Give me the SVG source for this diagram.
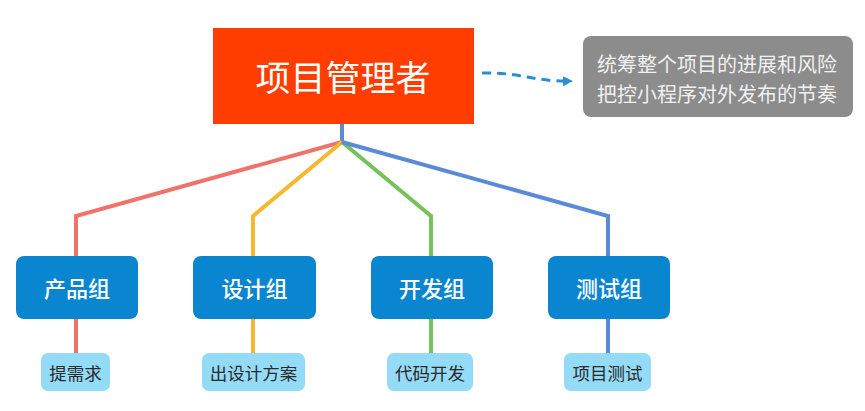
<svg xmlns="http://www.w3.org/2000/svg" width="865" height="411" viewBox="0 0 865 411">
<style>
text{font-family:"Noto Sans CJK SC","Noto Sans",sans-serif;text-anchor:middle;dominant-baseline:central}
.grp rect{fill:#0A86D0}
.grp text{fill:#fff;font-size:22px;font-weight:500}
.sub rect{fill:#93DBF7}
.sub text{fill:#2A2A2A;font-size:17.5px}
.ln{fill:none;stroke-width:4;stroke-linejoin:miter}
</style>
<defs>
<marker id="ah" markerWidth="10" markerHeight="10" refX="7" refY="5" orient="auto" markerUnits="userSpaceOnUse">
<path d="M0,0 L10,5 L0,10 Z" fill="#2A8FD0"/>
</marker>
</defs>
<rect width="865" height="411" fill="#fff"/>
<g id="connectors">
<line class="ln" x1="342" y1="124" x2="342" y2="143" stroke="#5B8BD6"/>
<polyline class="ln" points="342,142 76,216 76,256" stroke="#F0736A"/>
<polyline class="ln" points="342,142 253,216 253,256" stroke="#F5B82E"/>
<polyline class="ln" points="342,142 431,216 431,256" stroke="#74C25C"/>
<polyline class="ln" points="342,142 608,216 608,256" stroke="#5B8BD6"/>
<line class="ln" x1="76" y1="318" x2="76" y2="354" stroke="#F0736A"/>
<line class="ln" x1="253" y1="318" x2="253" y2="354" stroke="#F5B82E"/>
<line class="ln" x1="431" y1="318" x2="431" y2="354" stroke="#74C25C"/>
<line class="ln" x1="608" y1="318" x2="608" y2="354" stroke="#5B8BD6"/>
<path d="M482,73 C520,72 535,82 570,81" fill="none" stroke="#2A8FD0" stroke-width="3" stroke-dasharray="9,6" marker-end="url(#ah)"/>
</g>
<g id="manager">
<rect x="213" y="28" width="261" height="96" fill="#FF3D00"/>
<text x="343" y="75" fill="#fff" font-size="35">项目管理者</text>
</g>
<g id="note">
<rect x="583" y="36" width="270" height="81" rx="8" fill="#8C8C8C"/>
<text x="717" y="63" fill="#F0F0F0" font-size="20">统筹整个项目的进展和风险</text>
<text x="717" y="93" fill="#F0F0F0" font-size="20">把控小程序对外发布的节奏</text>
</g>
<g id="g-product" class="grp"><rect x="16" y="256" width="122" height="63" rx="8"/><text x="77" y="287">产品组</text></g>
<g id="g-design" class="grp"><rect x="193" y="256" width="123" height="63" rx="8"/><text x="254.5" y="287">设计组</text></g>
<g id="g-dev" class="grp"><rect x="371" y="256" width="122" height="63" rx="8"/><text x="432" y="287">开发组</text></g>
<g id="g-test" class="grp"><rect x="548" y="256" width="122" height="63" rx="8"/><text x="609" y="287">测试组</text></g>
<g id="s-product" class="sub"><rect x="41" y="353" width="69" height="38" rx="7"/><text x="75.5" y="372">提需求</text></g>
<g id="s-design" class="sub"><rect x="202" y="353" width="103" height="38" rx="7"/><text x="253.5" y="372">出设计方案</text></g>
<g id="s-dev" class="sub"><rect x="387" y="353" width="86" height="38" rx="7"/><text x="430" y="372">代码开发</text></g>
<g id="s-test" class="sub"><rect x="564" y="353" width="87" height="38" rx="7"/><text x="607.5" y="372">项目测试</text></g>
</svg>
